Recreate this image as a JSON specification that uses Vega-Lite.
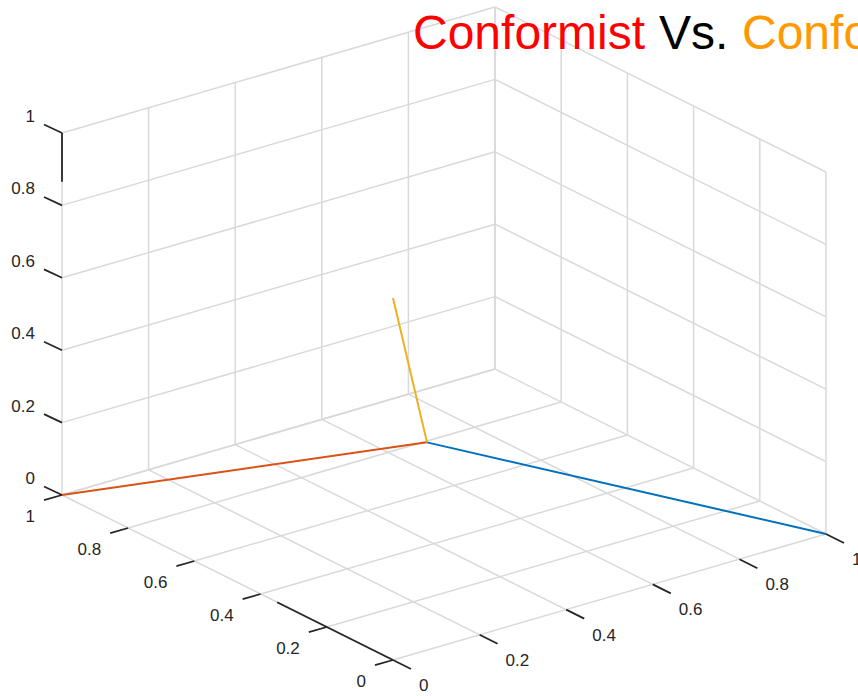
{
  "$schema": "https://vega.github.io/schema/vega-lite/v6.json",
  "width": 858,
  "height": 696,
  "padding": 0,
  "autosize": {"type": "none"},
  "background": "white",
  "config": {"view": {"stroke": null}},
  "datasets": {
    "grid": [
      {"x1": 0, "y1": 0, "z1": 0, "x2": 1, "y2": 0, "z2": 0},
      {"x1": 0, "y1": 0.2, "z1": 0, "x2": 1, "y2": 0.2, "z2": 0},
      {"x1": 0, "y1": 0.4, "z1": 0, "x2": 1, "y2": 0.4, "z2": 0},
      {"x1": 0, "y1": 0.6, "z1": 0, "x2": 1, "y2": 0.6, "z2": 0},
      {"x1": 0, "y1": 0.8, "z1": 0, "x2": 1, "y2": 0.8, "z2": 0},
      {"x1": 0, "y1": 1, "z1": 0, "x2": 1, "y2": 1, "z2": 0},
      {"x1": 0, "y1": 0, "z1": 0, "x2": 0, "y2": 1, "z2": 0},
      {"x1": 0.2, "y1": 0, "z1": 0, "x2": 0.2, "y2": 1, "z2": 0},
      {"x1": 0.4, "y1": 0, "z1": 0, "x2": 0.4, "y2": 1, "z2": 0},
      {"x1": 0.6, "y1": 0, "z1": 0, "x2": 0.6, "y2": 1, "z2": 0},
      {"x1": 0.8, "y1": 0, "z1": 0, "x2": 0.8, "y2": 1, "z2": 0},
      {"x1": 1, "y1": 0, "z1": 0, "x2": 1, "y2": 1, "z2": 0},
      {"x1": 0, "y1": 1, "z1": 0, "x2": 0, "y2": 1, "z2": 1},
      {"x1": 0.2, "y1": 1, "z1": 0, "x2": 0.2, "y2": 1, "z2": 1},
      {"x1": 0.4, "y1": 1, "z1": 0, "x2": 0.4, "y2": 1, "z2": 1},
      {"x1": 0.6, "y1": 1, "z1": 0, "x2": 0.6, "y2": 1, "z2": 1},
      {"x1": 0.8, "y1": 1, "z1": 0, "x2": 0.8, "y2": 1, "z2": 1},
      {"x1": 1, "y1": 1, "z1": 0, "x2": 1, "y2": 1, "z2": 1},
      {"x1": 0, "y1": 1, "z1": 0, "x2": 1, "y2": 1, "z2": 0},
      {"x1": 0, "y1": 1, "z1": 0.2, "x2": 1, "y2": 1, "z2": 0.2},
      {"x1": 0, "y1": 1, "z1": 0.4, "x2": 1, "y2": 1, "z2": 0.4},
      {"x1": 0, "y1": 1, "z1": 0.6, "x2": 1, "y2": 1, "z2": 0.6},
      {"x1": 0, "y1": 1, "z1": 0.8, "x2": 1, "y2": 1, "z2": 0.8},
      {"x1": 0, "y1": 1, "z1": 1, "x2": 1, "y2": 1, "z2": 1},
      {"x1": 1, "y1": 0, "z1": 0, "x2": 1, "y2": 0, "z2": 1},
      {"x1": 1, "y1": 0.2, "z1": 0, "x2": 1, "y2": 0.2, "z2": 1},
      {"x1": 1, "y1": 0.4, "z1": 0, "x2": 1, "y2": 0.4, "z2": 1},
      {"x1": 1, "y1": 0.6, "z1": 0, "x2": 1, "y2": 0.6, "z2": 1},
      {"x1": 1, "y1": 0.8, "z1": 0, "x2": 1, "y2": 0.8, "z2": 1},
      {"x1": 1, "y1": 1, "z1": 0, "x2": 1, "y2": 1, "z2": 1},
      {"x1": 1, "y1": 0, "z1": 0.2, "x2": 1, "y2": 1, "z2": 0.2},
      {"x1": 1, "y1": 0, "z1": 0.4, "x2": 1, "y2": 1, "z2": 0.4},
      {"x1": 1, "y1": 0, "z1": 0.6, "x2": 1, "y2": 1, "z2": 0.6},
      {"x1": 1, "y1": 0, "z1": 0.8, "x2": 1, "y2": 1, "z2": 0.8},
      {"x1": 1, "y1": 0, "z1": 1, "x2": 1, "y2": 1, "z2": 1}
    ],
    "axislines": [
      {"x1": 0, "y1": 1, "z1": 0.865, "x2": 0, "y2": 1, "z2": 1},
      {"x1": 0, "y1": 0, "z1": 0, "x2": 0, "y2": 0.35, "z2": 0}
    ],
    "ticks": [
      {"axis": "z", "x": 0, "y": 1, "z": 0, "label": "0"},
      {"axis": "z", "x": 0, "y": 1, "z": 0.2, "label": "0.2"},
      {"axis": "z", "x": 0, "y": 1, "z": 0.4, "label": "0.4"},
      {"axis": "z", "x": 0, "y": 1, "z": 0.6, "label": "0.6"},
      {"axis": "z", "x": 0, "y": 1, "z": 0.8, "label": "0.8"},
      {"axis": "z", "x": 0, "y": 1, "z": 1, "label": "1"},
      {"axis": "y", "x": 0, "y": 0, "z": 0, "label": "0"},
      {"axis": "y", "x": 0, "y": 0.2, "z": 0, "label": "0.2"},
      {"axis": "y", "x": 0, "y": 0.4, "z": 0, "label": "0.4"},
      {"axis": "y", "x": 0, "y": 0.6, "z": 0, "label": "0.6"},
      {"axis": "y", "x": 0, "y": 0.8, "z": 0, "label": "0.8"},
      {"axis": "y", "x": 0, "y": 1, "z": 0, "label": "1"},
      {"axis": "x", "x": 0, "y": 0, "z": 0, "label": "0"},
      {"axis": "x", "x": 0.2, "y": 0, "z": 0, "label": "0.2"},
      {"axis": "x", "x": 0.4, "y": 0, "z": 0, "label": "0.4"},
      {"axis": "x", "x": 0.6, "y": 0, "z": 0, "label": "0.6"},
      {"axis": "x", "x": 0.8, "y": 0, "z": 0, "label": "0.8"},
      {"axis": "x", "x": 1, "y": 0, "z": 0, "label": "1"}
    ],
    "series": [
      {"series": "s1", "order": 0, "x": 0.3333, "y": 0.3333, "z": 0.3333},
      {"series": "s1", "order": 1, "x": 1, "y": 0, "z": 0},
      {"series": "s2", "order": 0, "x": 0.3333, "y": 0.3333, "z": 0.3333},
      {"series": "s2", "order": 1, "x": 0, "y": 1, "z": 0},
      {"series": "s3", "order": 0, "x": 0.3333, "y": 0.3333, "z": 0.3333},
      {"series": "s3", "order": 1, "x": 0, "y": 0, "z": 1}
    ]
  },
  "layer": [
    {
      "data": {"name": "grid"},
      "transform": [
        {"calculate": "433*datum.x1 - 331*datum.y1", "as": "u"},
        {"calculate": "126*datum.x1 + 165*datum.y1 + 362*datum.z1", "as": "v"},
        {"calculate": "433*datum.x2 - 331*datum.y2", "as": "u2"},
        {"calculate": "126*datum.x2 + 165*datum.y2 + 362*datum.z2", "as": "v2"}
      ],
      "mark": {"type": "rule", "color": "#d9d9d9", "strokeWidth": 1.5},
      "encoding": {
        "x": {"field": "u", "type": "quantitative", "scale": {"domain": [-393, 465]}, "axis": null},
        "y": {"field": "v", "type": "quantitative", "scale": {"domain": [-36, 660]}, "axis": null},
        "x2": {"field": "u2"},
        "y2": {"field": "v2"}
      }
    },
    {
      "data": {"name": "axislines"},
      "transform": [
        {"calculate": "433*datum.x1 - 331*datum.y1", "as": "u"},
        {"calculate": "126*datum.x1 + 165*datum.y1 + 362*datum.z1", "as": "v"},
        {"calculate": "433*datum.x2 - 331*datum.y2", "as": "u2"},
        {"calculate": "126*datum.x2 + 165*datum.y2 + 362*datum.z2", "as": "v2"}
      ],
      "mark": {"type": "rule", "color": "#262626", "strokeWidth": 1.8},
      "encoding": {
        "x": {"field": "u", "type": "quantitative", "scale": {"domain": [-393, 465]}, "axis": null},
        "y": {"field": "v", "type": "quantitative", "scale": {"domain": [-36, 660]}, "axis": null},
        "x2": {"field": "u2"},
        "y2": {"field": "v2"}
      }
    },
    {
      "data": {"name": "ticks"},
      "transform": [
        {"calculate": "433*datum.x - 331*datum.y", "as": "u"},
        {"calculate": "126*datum.x + 165*datum.y + 362*datum.z", "as": "v"}
      ],
      "mark": {"type": "point", "filled": false, "strokeWidth": 1.8, "size": 1296, "opacity": 1, "color": "#262626"},
      "encoding": {
        "x": {"field": "u", "type": "quantitative", "scale": {"domain": [-393, 465]}, "axis": null},
        "y": {"field": "v", "type": "quantitative", "scale": {"domain": [-36, 660]}, "axis": null},
        "shape": {
          "field": "axis",
          "type": "nominal",
          "scale": {"domain": ["z", "y", "x"], "range": ["M0,0L-1,-0.47", "M0,0L-1,0.29", "M0,0L1,0.5"]},
          "legend": null
        }
      }
    },
    {
      "data": {"name": "ticks"},
      "transform": [
        {"filter": "datum.axis == 'z'"},
        {"calculate": "433*datum.x - 331*datum.y", "as": "u"},
        {"calculate": "126*datum.x + 165*datum.y + 362*datum.z", "as": "v"}
      ],
      "mark": {"type": "text", "align": "right", "baseline": "middle", "dx": -27, "dy": -16, "font": "Liberation Sans", "fontSize": 17, "color": "#262626"},
      "encoding": {
        "x": {"field": "u", "type": "quantitative", "scale": {"domain": [-393, 465]}, "axis": null},
        "y": {"field": "v", "type": "quantitative", "scale": {"domain": [-36, 660]}, "axis": null},
        "text": {"field": "label"}
      }
    },
    {
      "data": {"name": "ticks"},
      "transform": [
        {"filter": "datum.axis == 'y'"},
        {"calculate": "433*datum.x - 331*datum.y", "as": "u"},
        {"calculate": "126*datum.x + 165*datum.y + 362*datum.z", "as": "v"}
      ],
      "mark": {"type": "text", "align": "right", "baseline": "middle", "dx": -27, "dy": 22, "font": "Liberation Sans", "fontSize": 17, "color": "#262626"},
      "encoding": {
        "x": {"field": "u", "type": "quantitative", "scale": {"domain": [-393, 465]}, "axis": null},
        "y": {"field": "v", "type": "quantitative", "scale": {"domain": [-36, 660]}, "axis": null},
        "text": {"field": "label"}
      }
    },
    {
      "data": {"name": "ticks"},
      "transform": [
        {"filter": "datum.axis == 'x'"},
        {"calculate": "433*datum.x - 331*datum.y", "as": "u"},
        {"calculate": "126*datum.x + 165*datum.y + 362*datum.z", "as": "v"}
      ],
      "mark": {"type": "text", "align": "left", "baseline": "middle", "dx": 26, "dy": 26, "font": "Liberation Sans", "fontSize": 17, "color": "#262626"},
      "encoding": {
        "x": {"field": "u", "type": "quantitative", "scale": {"domain": [-393, 465]}, "axis": null},
        "y": {"field": "v", "type": "quantitative", "scale": {"domain": [-36, 660]}, "axis": null},
        "text": {"field": "label"}
      }
    },
    {
      "data": {"name": "series"},
      "transform": [
        {"calculate": "433*datum.x - 331*datum.y", "as": "u"},
        {"calculate": "126*datum.x + 165*datum.y + 362*datum.z", "as": "v"}
      ],
      "mark": {"type": "line", "strokeWidth": 2},
      "encoding": {
        "x": {"field": "u", "type": "quantitative", "scale": {"domain": [-393, 465]}, "axis": null},
        "y": {"field": "v", "type": "quantitative", "scale": {"domain": [-36, 660]}, "axis": null},
        "color": {
          "field": "series",
          "type": "nominal",
          "scale": {"domain": ["s1", "s2", "s3"], "range": ["#0072BD", "#D95319", "#EDB120"]},
          "legend": null
        },
        "order": {"field": "order", "type": "quantitative"}
      }
    },
    {
      "data": {"values": [{}]},
      "mark": {"type": "text", "text": "Conformist", "align": "left", "baseline": "alphabetic", "font": "Liberation Sans", "fontSize": 48, "color": "#ff0000"},
      "encoding": {"x": {"value": 413}, "y": {"value": 49}}
    },
    {
      "data": {"values": [{}]},
      "mark": {"type": "text", "text": "Vs.", "align": "left", "baseline": "alphabetic", "font": "Liberation Sans", "fontSize": 48, "color": "#000000"},
      "encoding": {"x": {"value": 659}, "y": {"value": 49}}
    },
    {
      "data": {"values": [{}]},
      "mark": {"type": "text", "text": "Conformist", "align": "left", "baseline": "alphabetic", "font": "Liberation Sans", "fontSize": 48, "color": "#ff9900"},
      "encoding": {"x": {"value": 742}, "y": {"value": 49}}
    }
  ]
}
